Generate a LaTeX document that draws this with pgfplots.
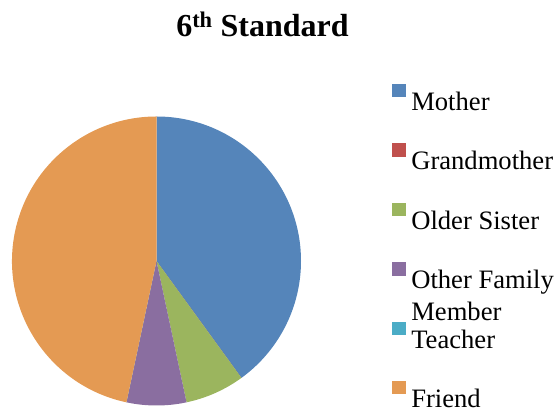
\documentclass[border=0pt]{standalone}
\usepackage{fontspec}
\setmainfont{Liberation Serif}
\usepackage{pgfplots}
\usepackage{pgfplotstable}
\pgfplotsset{compat=1.18}

\definecolor{c0}{HTML}{5585BA}
\definecolor{c1}{HTML}{C0504D}
\definecolor{c2}{HTML}{9BB55E}
\definecolor{c3}{HTML}{8A6EA0}
\definecolor{c4}{HTML}{4BACC6}
\definecolor{c5}{HTML}{E49A53}

% share of answers (out of 15)
\pgfplotstableread{
idx value
0 6
1 0
2 1
3 1
4 0
5 7
}\piedata

\begin{document}
\begin{tikzpicture}
  \begin{axis}[
      scale only axis,
      width=555pt, height=411pt,
      xmin=0, xmax=555, ymin=0, ymax=411,
      hide axis,
      legend cell align=left,
      legend image code/.code={\fill[#1] (0pt,5pt) rectangle (13.5pt,18.5pt);},
      legend style={
          draw=none, fill=none, inner sep=0pt, outer sep=0pt,
          at={(axis cs:392.3,327)}, anchor=north west,
          font=\fontsize{26.6}{30}\selectfont,
          nodes={inner sep=0pt, text height=19pt, text depth=3pt},
          column sep=5.5pt, row sep=29.9pt
      }
  ]
  \addlegendimage{fill=c0, draw=none}
  \addlegendentry{Mother}
  \addlegendimage{fill=c1, draw=none}
  \addlegendentry{Grandmother}
  \addlegendimage{fill=c2, draw=none}
  \addlegendentry{Older Sister}
  \addlegendimage{fill=c3, draw=none}
  \addlegendentry{\rlap{\raisebox{-32.3pt}[0pt][0pt]{Member}}Other Family}
  \addlegendimage{fill=c4, draw=none}
  \addlegendentry{Teacher}
  \addlegendimage{fill=c5, draw=none}
  \addlegendentry{Friend}

  \xdef\pieangle{90}
  \pgfplotsforeachungrouped \i in {0,...,5} {
      \pgfplotstablegetelem{\i}{value}\of\piedata
      \pgfmathsetmacro\nextangle{\pieangle - \pgfplotsretval*360/15}
      \edef\tmp{\noexpand\fill[c\i] (axis cs:156.5,150) -- ++(\pieangle:144.5pt)
          arc[start angle=\pieangle, end angle=\nextangle, radius=144.5pt] -- cycle;}
      \tmp
      \xdef\pieangle{\nextangle}
  }
  \node[anchor=base, inner sep=0pt] at (axis cs:262.5,374)
      {\fontsize{32}{38}\selectfont\bfseries 6\textsuperscript{th} Standard};
  \end{axis}
  \pgfresetboundingbox
  \path (current axis.south west) rectangle (current axis.north east);
\end{tikzpicture}
\end{document}
